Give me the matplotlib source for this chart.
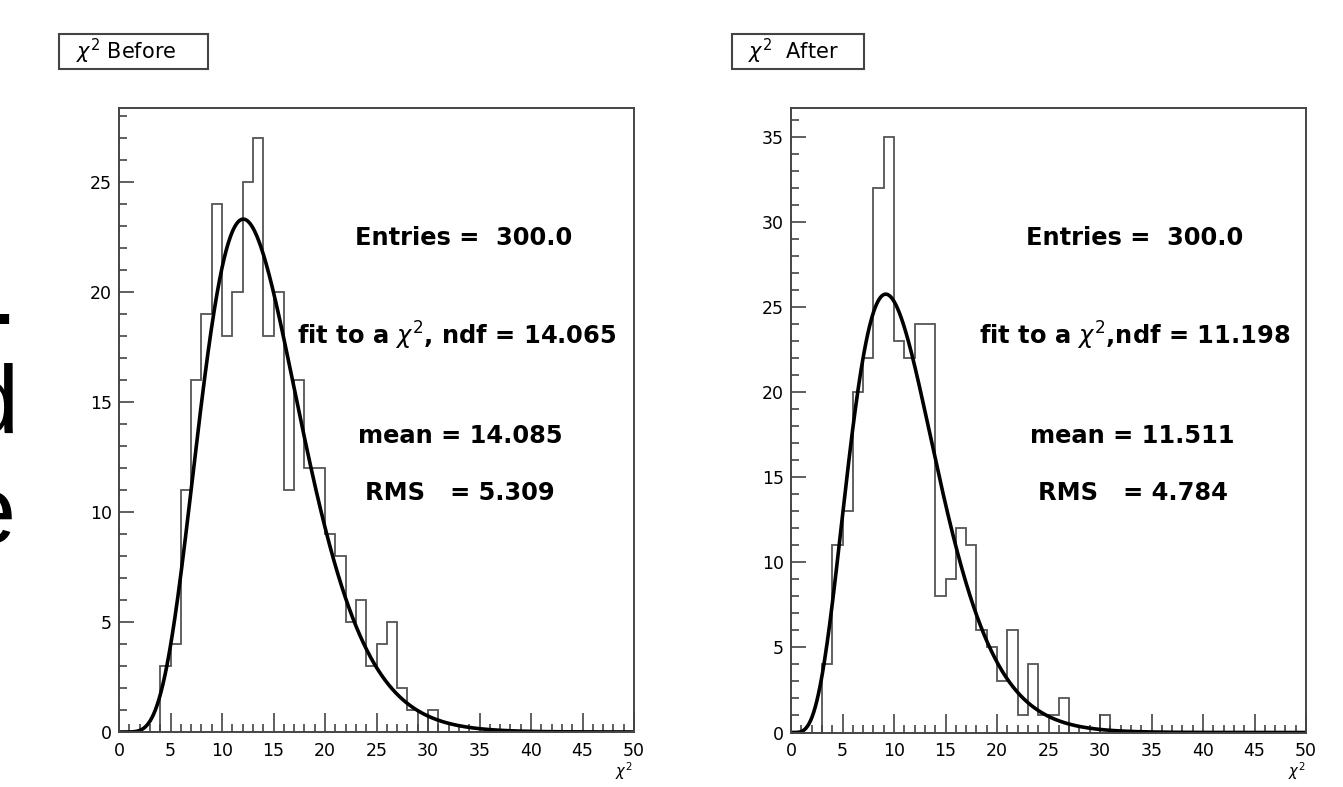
import math
import numpy as np
import matplotlib
matplotlib.use("Agg")
import matplotlib.pyplot as plt
from matplotlib.patches import Rectangle
from matplotlib.ticker import MultipleLocator

# ---------------- data ----------------
bin_edges = list(range(0, 51))

before_counts = [0, 0, 0, 0, 3, 4, 11, 16, 19, 24,
                 18, 20, 25, 27, 18, 20, 11, 16, 12, 12,
                 9, 8, 5, 6, 3, 4, 5, 2, 1, 0,
                 1, 0, 0, 0, 0, 0, 0, 0, 0, 0,
                 0, 0, 0, 0, 0, 0, 0, 0, 0, 0]

after_counts = [0, 0, 0, 4, 11, 13, 20, 22, 32, 35,
                23, 22, 24, 24, 8, 9, 12, 11, 6, 5,
                3, 6, 1, 4, 1, 1, 2, 0, 0, 0,
                1, 0, 0, 0, 0, 0, 0, 0, 0, 0,
                0, 0, 0, 0, 0, 0, 0, 0, 0, 0]

fit_ndf_before = 14.065
fit_norm_before = 291.0
fit_ndf_after = 11.198
fit_norm_after = 282.0

titles = [r"$\chi^2$ Before", r"$\chi^2$  After"]
stats_before = ["Entries =  300.0", r"fit to a $\chi^2$, ndf = 14.065",
                "mean = 14.085", "RMS   = 5.309"]
stats_after = ["Entries =  300.0", r"fit to a $\chi^2$,ndf = 11.198",
               "mean = 11.511", "RMS   = 4.784"]
x_ticks = [0, 5, 10, 15, 20, 25, 30, 35, 40, 45, 50]
ymax_before = 28.36
ymax_after = 36.7

W, H = 1343, 787


def chi2_pdf(x, k):
    x = np.asarray(x, dtype=float)
    out = np.zeros_like(x)
    m = x > 0
    lg = (k / 2 - 1) * np.log(x[m]) - x[m] / 2 - (k / 2) * math.log(2) - math.lgamma(k / 2)
    out[m] = np.exp(lg)
    return out


fig = plt.figure(figsize=(W / 100, H / 100), dpi=100)


def px_axes(l, t, r, b):
    return fig.add_axes([l / W, 1 - b / H, (r - l) / W, (b - t) / H])


def fig_text(x, y, s, **kw):
    fig.text(x / W, 1 - y / H, s, **kw)


def setup(ax, ymax):
    ax.set_xlim(0, 50)
    ax.set_ylim(0, ymax)
    for sp in ax.spines.values():
        sp.set_color("#444444")
        sp.set_linewidth(1.4)
    ax.set_xticks(x_ticks)
    ax.xaxis.set_minor_locator(MultipleLocator(1))
    ax.yaxis.set_major_locator(MultipleLocator(5))
    ax.yaxis.set_minor_locator(MultipleLocator(1))
    ax.tick_params(axis="both", which="both", direction="in", color="#444444",
                   top=False, right=False, labelsize=12.5, width=1.2)
    ax.tick_params(axis="x", which="major", length=13.5, pad=7)
    ax.tick_params(axis="x", which="minor", length=6)
    ax.tick_params(axis="y", which="major", length=11, pad=5)
    ax.tick_params(axis="y", which="minor", length=5.5)


xs = np.linspace(0, 50, 1000)

# left panel
ax1 = px_axes(119, 108, 634, 732)
setup(ax1, ymax_before)
ax1.stairs(before_counts, bin_edges, baseline=0, color="#555555", lw=1.3)
ax1.plot(xs, fit_norm_before * chi2_pdf(xs, fit_ndf_before), color="black", lw=2.6)

# right panel
ax2 = px_axes(791, 108, 1306, 732.5)
setup(ax2, ymax_after)
ax2.stairs(after_counts, bin_edges, baseline=0, color="#555555", lw=1.3)
ax2.plot(xs, fit_norm_after * chi2_pdf(xs, fit_ndf_after), color="black", lw=2.6)

# stats text
bold = dict(fontsize=17.4, fontweight="bold", ha="right", va="baseline")
ys = [245, 345, 443, 500]
for s, x, y in zip(stats_before, [572, 617, 562, 555], ys):
    fig_text(x, y, s, **bold)
for s, x, y in zip(stats_after, [1243, 1290, 1234, 1228], ys):
    fig_text(x, y, s, **bold)

# title boxes
for (l, t, r, b), s, tx in zip([(59, 34, 208, 69), (732, 34, 864, 69)], titles, [76, 748]):
    fig.add_artist(Rectangle((l / W, 1 - b / H), (r - l) / W, (b - t) / H,
                             transform=fig.transFigure, fill=False,
                             ec="#444444", lw=1.5))
    fig_text(tx, 59, s, fontsize=15, ha="left", va="baseline")

# axis titles
fig_text(632, 782, r"$\chi^2$", fontsize=10.5, ha="right", va="bottom")
fig_text(1305, 782, r"$\chi^2$", fontsize=10.5, ha="right", va="bottom")

# clipped large text on the left edge
big = dict(fontsize=70, family="Liberation Sans", ha="right", va="baseline")
fig_text(17, 324, ".", **big)
fig_text(19, 433, "d", **big)
fig_text(16, 543, "e", **big)

fig.savefig("out.png", dpi=100)
